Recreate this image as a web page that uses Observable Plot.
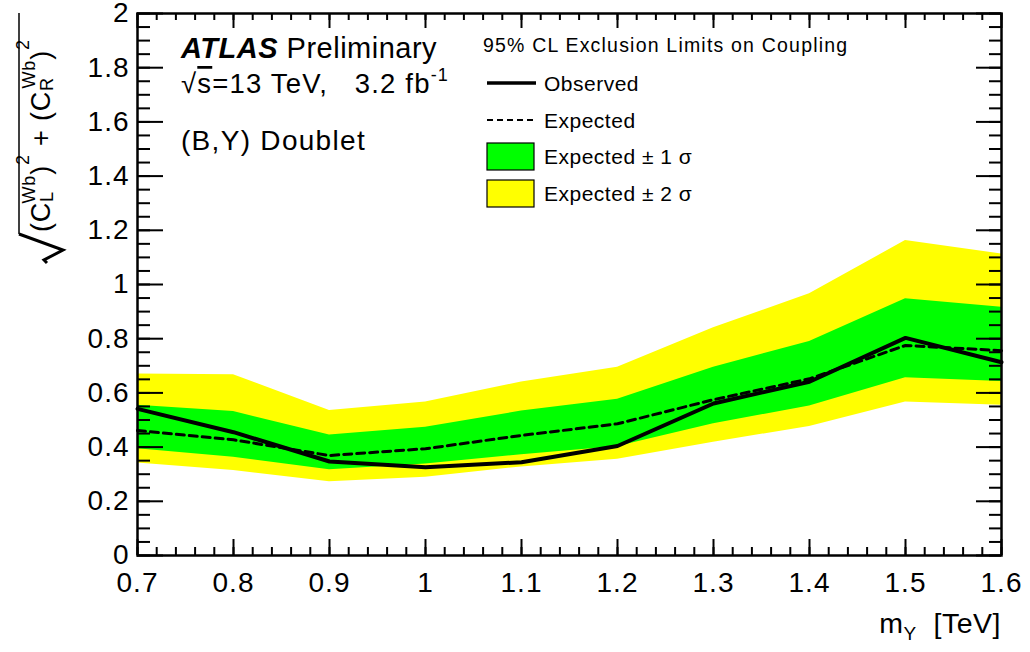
<!DOCTYPE html>
<html>
<head>
<meta charset="utf-8">
<script src="https://cdn.jsdelivr.net/npm/d3@7"></script>
<script src="https://cdn.jsdelivr.net/npm/@observablehq/plot@0.6"></script>
<style>
  html, body { margin: 0; padding: 0; background: white; }
  #chart { width: 1030px; height: 652px; }
</style>
</head>
<body>
<div id="chart"></div>
<script>
// ---- data ----
const massTeV   = [0.7, 0.8, 0.9, 1.0, 1.1, 1.2, 1.3, 1.4, 1.5, 1.6];
const observed  = [0.541, 0.455, 0.347, 0.326, 0.344, 0.404, 0.561, 0.641, 0.803, 0.713];
const expected  = [0.461, 0.427, 0.369, 0.394, 0.443, 0.486, 0.575, 0.652, 0.775, 0.756];
const sigma1Lo  = [0.394, 0.363, 0.316, 0.338, 0.372, 0.402, 0.486, 0.552, 0.656, 0.642];
const sigma1Hi  = [0.554, 0.531, 0.445, 0.473, 0.533, 0.577, 0.695, 0.790, 0.947, 0.916];
const sigma2Lo  = [0.341, 0.314, 0.272, 0.289, 0.327, 0.355, 0.418, 0.476, 0.566, 0.554];
const sigma2Hi  = [0.670, 0.667, 0.535, 0.566, 0.640, 0.695, 0.840, 0.966, 1.162, 1.113];

const xTickLabels = [0.7, 0.8, 0.9, 1, 1.1, 1.2, 1.3, 1.4, 1.5, 1.6];
const yTickLabels = [0, 0.2, 0.4, 0.6, 0.8, 1, 1.2, 1.4, 1.6, 1.8, 2];

const legendTitle = "95% CL Exclusion Limits on Coupling";
const legendLabels = ["Observed", "Expected", "Expected \u00b1 1 \u03c3", "Expected \u00b1 2 \u03c3"];

// ---- table ----
const rows = massTeV.map((m, i) => ({
  m, obs: observed[i], exp: expected[i],
  lo1: sigma1Lo[i], hi1: sigma1Hi[i], lo2: sigma2Lo[i], hi2: sigma2Hi[i]
}));

const W = 1030, H = 652;
const mL = 137, mR = 29, mT = 13, mB = 97;
const innerW = W - mL - mR, innerH = H - mT - mB;

const xMinor = d3.range(70, 161, 2).map(v => v / 100);
const yMinor = d3.range(0, 201, 5).map(v => v / 100);

const FONT = "'Liberation Sans', Arial, Helvetica, sans-serif";

const plot = Plot.plot({
  width: W, height: H,
  marginLeft: mL, marginRight: mR, marginTop: mT, marginBottom: mB,
  style: { fontFamily: FONT, fontSize: "28px", background: "white", color: "black", letterSpacing: "1px" },
  x: { domain: [0.7, 1.6], label: null },
  y: { domain: [0, 2], label: null },
  marks: [
    Plot.areaY(rows, { x: "m", y1: "lo2", y2: "hi2", fill: "#ffff00" }),
    Plot.areaY(rows, { x: "m", y1: "lo1", y2: "hi1", fill: "#00ff00" }),
    Plot.line(rows, { x: "m", y: "exp", stroke: "black", strokeWidth: 3, strokeDasharray: "8,5" }),
    Plot.line(rows, { x: "m", y: "obs", stroke: "black", strokeWidth: 4 }),
    // inward ticks, ROOT style
    Plot.tickX(xTickLabels, { x: d => d, insetTop: innerH - 16, stroke: "black", strokeWidth: 2 }),
    Plot.tickX(xMinor, { x: d => d, insetTop: innerH - 8, stroke: "black", strokeWidth: 2 }),
    Plot.tickX(xTickLabels, { x: d => d, insetBottom: innerH - 15, stroke: "black", strokeWidth: 2 }),
    Plot.tickX(xMinor, { x: d => d, insetBottom: innerH - 7, stroke: "black", strokeWidth: 2 }),
    Plot.tickY(yTickLabels, { y: d => d, insetRight: innerW - 26, stroke: "black", strokeWidth: 2 }),
    Plot.tickY(yMinor, { y: d => d, insetRight: innerW - 13, stroke: "black", strokeWidth: 2 }),
    Plot.tickY(yTickLabels, { y: d => d, insetLeft: innerW - 25, stroke: "black", strokeWidth: 2 }),
    Plot.tickY(yMinor, { y: d => d, insetLeft: innerW - 12, stroke: "black", strokeWidth: 2 }),
    Plot.frame({ stroke: "black", strokeWidth: 2.5 }),
    Plot.axisX(xTickLabels, { tickSize: 0, tickPadding: 17, tickFormat: d => String(d), fontSize: 28, label: null }),
    Plot.axisY(yTickLabels, { tickSize: 0, tickPadding: 8, tickFormat: d => String(d), fontSize: 28, label: null })
  ]
});

document.getElementById("chart").appendChild(plot);

// ---- annotations, legend and axis titles ----
const svg = d3.select(plot);
const g = svg.append("g").attr("font-family", FONT).attr("fill", "black")
  .attr("text-anchor", "start").style("letter-spacing", "0.5px");

// ATLAS label
const t1 = g.append("text").attr("x", 181).attr("y", 58).attr("font-size", 29);
t1.append("tspan").attr("font-weight", "bold").attr("font-style", "italic").text("ATLAS");
t1.append("tspan").text("\u00a0Preliminary");

const t2 = g.append("text").attr("x", 181).attr("y", 93).attr("font-size", 27.5).style("letter-spacing", "1.2px");
t2.append("tspan").text("\u221a");
t2.append("tspan").style("text-decoration", "overline").text("s");
t2.append("tspan").text("=13 TeV,\u00a0\u00a0\u00a03.2 fb");
t2.append("tspan").attr("font-size", 18).attr("dy", -12).text("-1");

g.append("text").attr("x", 181).attr("y", 150).attr("font-size", 28).style("letter-spacing", "1.3px").text("(B,Y) Doublet");

// Legend
g.append("text").attr("x", 483).attr("y", 52).attr("font-size", 19.5).style("letter-spacing", "1.2px").text(legendTitle);
g.append("line").attr("x1", 487).attr("x2", 536).attr("y1", 83).attr("y2", 83)
  .attr("stroke", "black").attr("stroke-width", 3.5);
g.append("line").attr("x1", 487).attr("x2", 536).attr("y1", 120).attr("y2", 120)
  .attr("stroke", "black").attr("stroke-width", 2).attr("stroke-dasharray", "6,4");
g.append("rect").attr("x", 487).attr("y", 143).attr("width", 47).attr("height", 27)
  .attr("fill", "#00ff00").attr("stroke", "black").attr("stroke-width", 1.2);
g.append("rect").attr("x", 487).attr("y", 180).attr("width", 47).attr("height", 27)
  .attr("fill", "#ffff00").attr("stroke", "black").attr("stroke-width", 1.2);
[91, 128, 164, 201].forEach((y, i) => {
  g.append("text").attr("x", 544).attr("y", y).attr("font-size", 21).text(legendLabels[i]);
});

// x-axis title
const xt = g.append("text").attr("x", 1001).attr("y", 633).attr("font-size", 28.5).attr("text-anchor", "end");
xt.append("tspan").text("m");
xt.append("tspan").attr("font-size", 19).attr("dy", 7).text("Y");
xt.append("tspan").attr("dy", -7).text("\u00a0\u00a0[TeV]");

// y-axis title (rotated), with a radical sign
const yt = g.append("text").attr("transform", "translate(50,232) rotate(-90)")
  .attr("font-size", 27).style("letter-spacing", "0.8px");
function grp(sub) {
  yt.append("tspan").text("(C");
  yt.append("tspan").attr("font-size", 18).attr("dy", 3).text(sub);
  yt.append("tspan").attr("font-size", 18).attr("dy", -18).attr("dx", -11).text("Wb");
  yt.append("tspan").attr("dy", 15).text(")");
  yt.append("tspan").attr("font-size", 18).attr("dy", -21).text("2");
  yt.append("tspan").attr("dy", 21).text("\u00a0");
}
grp("L");
yt.append("tspan").text("+\u00a0");
grp("R");

g.append("path")
  .attr("d", "M19,13 L19,234")
  .attr("stroke", "black").attr("stroke-width", 1.5).attr("fill", "none");
g.append("path")
  .attr("d", "M19,234 L63,250 L44,260 L47,263")
  .attr("stroke", "black").attr("stroke-width", 3).attr("fill", "none").attr("stroke-linejoin", "miter");
</script>
</body>
</html>
